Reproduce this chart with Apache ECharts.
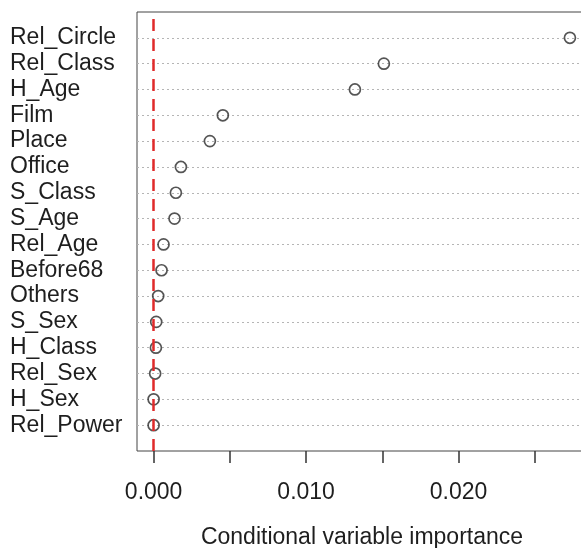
<!DOCTYPE html>
<html>
<head>
<meta charset="utf-8">
<script src="https://cdn.jsdelivr.net/npm/echarts@6/dist/echarts.min.js"></script>
<style>
  html, body { margin: 0; padding: 0; background: #fff; }
  #main { width: 581px; height: 548px; }
</style>
</head>
<body>
<div id="main"></div>
<script>
// 变量名（从上到下）
const varNames = ['Rel_Circle', 'Rel_Class', 'H_Age', 'Film', 'Place', 'Office', 'S_Class', 'S_Age',
  'Rel_Age', 'Before68', 'Others', 'S_Sex', 'H_Class', 'Rel_Sex', 'H_Sex', 'Rel_Power'];
// 条件变量重要性
const importance = [0.0273, 0.0151, 0.0132, 0.00454, 0.00369, 0.00179, 0.00146, 0.00137,
  0.00065, 0.00052, 0.0003, 0.00017, 0.00015, 0.0001, 0.0, 0.0];
// x轴刻度
const tickValues = [0, 0.005, 0.010, 0.015, 0.020, 0.025];
const labelValues = [0, 0.010, 0.020];

// y轴类目：上下各留一个空位（和 R dotchart 一样）
const yCats = [''].concat(varNames.slice().reverse(), ['']);
const points = varNames.map((name, i) => [importance[i], name]);

const chart = echarts.init(document.getElementById('main'), null, { renderer: 'canvas' });
const font = '"Liberation Sans", Arial, sans-serif';

const option = {
  backgroundColor: '#fff',
  animation: false,
  grid: {
    show: true,
    left: 137,
    top: 12,
    right: -6,
    bottom: 97,
    outerBoundsMode: 'none',
    borderColor: '#444',
    borderWidth: 1,
    containLabel: false
  },
  xAxis: {
    type: 'value',
    min: -0.00109,
    max: 0.02842,
    name: 'Conditional variable importance',
    nameLocation: 'middle',
    nameGap: 75,
    nameTextStyle: { fontFamily: font, fontSize: 23, color: '#1e1e1e' },
    axisLine: { show: false },
    axisTick: {
      show: true,
      length: 12,
      customValues: tickValues,
      lineStyle: { color: '#333', width: 1.5 }
    },
    axisLabel: {
      customValues: labelValues,
      margin: 30,
      fontFamily: font,
      fontSize: 23,
      color: '#1e1e1e',
      formatter: v => v.toFixed(3)
    },
    splitLine: { show: false }
  },
  yAxis: {
    type: 'category',
    data: yCats,
    boundaryGap: false,
    axisLine: { show: false },
    axisTick: { show: false },
    axisLabel: {
      interval: 0,
      align: 'left',
      margin: 127,
      fontFamily: font,
      fontSize: 23,
      color: '#1e1e1e'
    },
    splitLine: {
      show: true,
      interval: (idx) => idx !== 0 && idx !== yCats.length - 1,
      lineStyle: { color: '#b5b5b5', type: [2, 3], width: 1 }
    }
  },
  series: [
    {
      type: 'scatter',
      data: points,
      symbol: 'circle',
      symbolSize: 11,
      itemStyle: { color: 'rgba(255,255,255,0)', borderColor: '#2b2b2b', borderWidth: 1.7 },
      z: 2
    },
    {
      // 0 处红色虚线
      type: 'scatter',
      data: [],
      z: 5,
      markLine: {
        silent: true,
        symbol: 'none',
        label: { show: false },
        lineStyle: { color: '#e02a2a', type: [12, 8], width: 2.5 },
        data: [{ xAxis: 0 }]
      }
    }
  ]
};

chart.setOption(option);
</script>
</body>
</html>
